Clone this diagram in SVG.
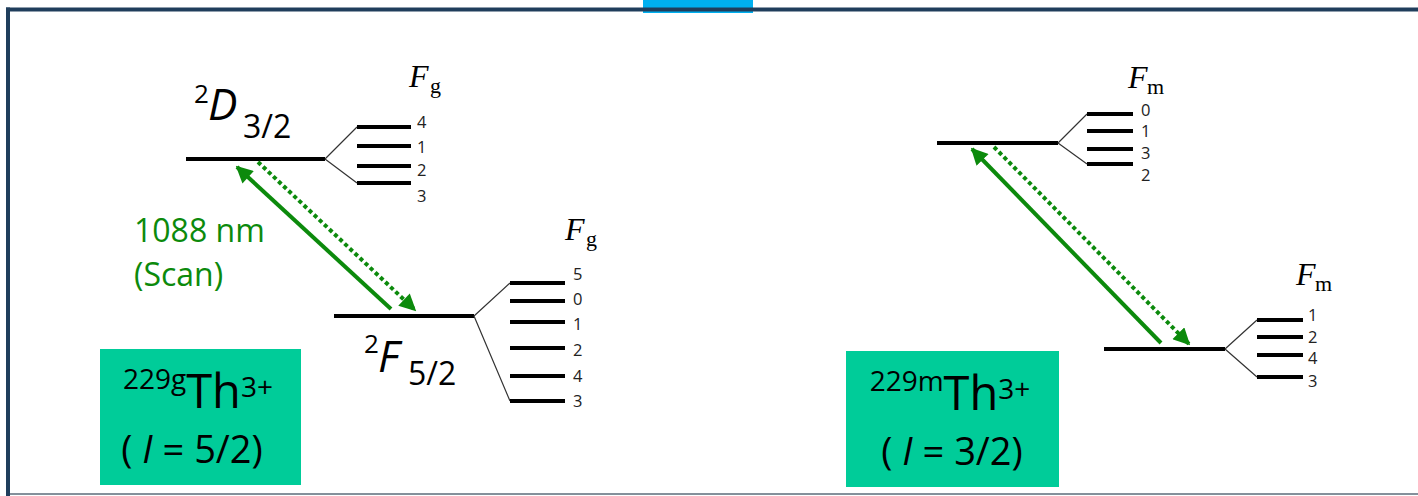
<svg xmlns="http://www.w3.org/2000/svg" width="1418" height="496" viewBox="0 0 1418 496">
  <style>
    .lvl { stroke: #000; stroke-width: 4; fill: none; }
    .sub { stroke: #000; stroke-width: 4; fill: none; }
    .fan { stroke: #333; stroke-width: 1.2; fill: none; }
    .num { font-family: "Open Sans", "Noto Sans", sans-serif; font-size: 16.5px; fill: #222; }
    .fF { font-family: "Liberation Serif", "DejaVu Serif", serif; font-style: italic; font-size: 32px; fill: #000; }
    .fsub { font-family: "Liberation Serif", "DejaVu Serif", serif; font-size: 22px; fill: #000; }
    .term { font-family: "Open Sans", "Noto Sans", sans-serif; fill: #000; }
    .box { fill: #00CC99; }
    .boxt { font-family: "Open Sans", "Noto Sans", sans-serif; fill: #000; }
    .laser { stroke: #0C8A0C; stroke-width: 4; fill: none; }
    .dots { stroke: #0C8A0C; stroke-width: 4; fill: none; stroke-dasharray: 4 3; }
    .lab { font-family: "Open Sans", "Noto Sans", sans-serif; font-size: 32px; fill: #0C8A0C; }
  </style>
  <defs>
    <marker id="head" viewBox="0 0 10 10" refX="9" refY="5" markerWidth="4.4" markerHeight="4.2" orient="auto" markerUnits="strokeWidth">
      <path d="M0,0 L10,5 L0,10 Z" fill="#0C8A0C"/>
    </marker>
  </defs>

  <!-- slide frame -->
  <rect x="643" y="0" width="110" height="13" fill="#00B0F0"/>
  <line x1="6" y1="9.5" x2="1418" y2="9.5" stroke="#203E5C" stroke-width="4"/>
  <line x1="8" y1="7.5" x2="8" y2="496" stroke="#203E5C" stroke-width="4"/>
  <line x1="10" y1="494" x2="1418" y2="494" stroke="#5B6B7A" stroke-width="1.5"/>

  <!-- 229g Th3+ : upper 2D3/2 level -->
  <g id="g-D32">
    <line class="lvl" x1="186" y1="159" x2="325" y2="159"/>
    <path class="fan" d="M325,159 L357,127 M325,159 L357,183"/>
    <line class="sub" x1="357" y1="127" x2="411" y2="127"/>
    <line class="sub" x1="357" y1="146" x2="411" y2="146"/>
    <line class="sub" x1="357" y1="166" x2="411" y2="166"/>
    <line class="sub" x1="357" y1="183" x2="411" y2="183"/>
    <text class="num" x="417" y="128">4</text>
    <text class="num" x="417" y="153">1</text>
    <text class="num" x="417" y="176">2</text>
    <text class="num" x="417" y="202">3</text>
    <text class="fF" x="409" y="87">F</text>
    <text class="fsub" x="430" y="93">g</text>
    <text class="term" x="194" y="103" font-size="26">2</text>
    <text class="term" x="208" y="120" font-size="44" font-style="italic">D</text>
    <text class="term" x="243" y="138" font-size="32">3/2</text>
  </g>

  <!-- 229g Th3+ : lower 2F5/2 level -->
  <g id="g-F52">
    <line class="lvl" x1="334" y1="316" x2="474" y2="316"/>
    <path class="fan" d="M474,316 L510,283 M474,316 L510,401"/>
    <line class="sub" x1="510" y1="283" x2="565" y2="283"/>
    <line class="sub" x1="510" y1="301" x2="565" y2="301"/>
    <line class="sub" x1="510" y1="322" x2="565" y2="322"/>
    <line class="sub" x1="510" y1="348" x2="565" y2="348"/>
    <line class="sub" x1="510" y1="376" x2="565" y2="376"/>
    <line class="sub" x1="510" y1="401" x2="565" y2="401"/>
    <text class="num" x="573" y="280">5</text>
    <text class="num" x="573" y="305">0</text>
    <text class="num" x="573" y="330">1</text>
    <text class="num" x="573" y="356">2</text>
    <text class="num" x="573" y="382">4</text>
    <text class="num" x="573" y="407">3</text>
    <text class="fF" x="565" y="240">F</text>
    <text class="fsub" x="586" y="246">g</text>
    <text class="term" x="364" y="353" font-size="26">2</text>
    <text class="term" x="378" y="372" font-size="44" font-style="italic">F</text>
    <text class="term" x="408" y="385" font-size="32">5/2</text>
  </g>

  <!-- 229m Th3+ : upper level -->
  <g id="m-upper">
    <line class="lvl" x1="937" y1="143" x2="1058" y2="143"/>
    <path class="fan" d="M1058,143 L1087,114 M1058,143 L1087,164"/>
    <line class="sub" x1="1087" y1="114" x2="1133" y2="114"/>
    <line class="sub" x1="1087" y1="131" x2="1133" y2="131"/>
    <line class="sub" x1="1087" y1="149" x2="1133" y2="149"/>
    <line class="sub" x1="1087" y1="164" x2="1133" y2="164"/>
    <text class="num" x="1141" y="116">0</text>
    <text class="num" x="1141" y="137">1</text>
    <text class="num" x="1141" y="159">3</text>
    <text class="num" x="1141" y="181">2</text>
    <text class="fF" x="1128" y="88">F</text>
    <text class="fsub" x="1147" y="94">m</text>
  </g>

  <!-- 229m Th3+ : lower level -->
  <g id="m-lower">
    <line class="lvl" x1="1104" y1="349" x2="1225" y2="349"/>
    <path class="fan" d="M1225,349 L1257,320 M1225,349 L1257,377"/>
    <line class="sub" x1="1257" y1="320" x2="1303" y2="320"/>
    <line class="sub" x1="1257" y1="337" x2="1303" y2="337"/>
    <line class="sub" x1="1257" y1="355" x2="1303" y2="355"/>
    <line class="sub" x1="1257" y1="377" x2="1303" y2="377"/>
    <text class="num" x="1308" y="321">1</text>
    <text class="num" x="1308" y="343">2</text>
    <text class="num" x="1308" y="364">4</text>
    <text class="num" x="1308" y="387">3</text>
    <text class="fF" x="1296" y="285">F</text>
    <text class="fsub" x="1315" y="291">m</text>
  </g>

  <!-- laser excitation and decay -->
  <g id="connectors">
    <line class="laser" x1="391" y1="309" x2="237" y2="167" marker-end="url(#head)"/>
    <line class="dots" x1="258" y1="162" x2="415" y2="310" marker-end="url(#head)"/>
    <line class="laser" x1="1161" y1="343" x2="972" y2="149" marker-end="url(#head)"/>
    <line class="dots" x1="994" y1="147" x2="1189" y2="344" marker-end="url(#head)"/>
  </g>

  <g id="scan-label">
    <text class="lab" x="134" y="242">1088 nm</text>
    <text class="lab" x="134" y="286">(Scan)</text>
  </g>

  <!-- isotope boxes -->
  <g id="box-ground">
    <rect class="box" x="100" y="349" width="201" height="136"/>
    <text class="boxt" x="198" y="408" text-anchor="middle"><tspan font-size="28" dy="-19">229g</tspan><tspan font-size="47" dy="19">Th</tspan><tspan font-size="28" dy="-11">3+</tspan></text>
    <text class="boxt" x="192" y="463" font-size="38" text-anchor="middle">( <tspan font-style="italic">I</tspan> = 5/2)</text>
  </g>
  <g id="box-isomer">
    <rect class="box" x="846" y="351" width="213" height="136"/>
    <text class="boxt" x="950" y="410" text-anchor="middle"><tspan font-size="28" dy="-19">229m</tspan><tspan font-size="47" dy="19">Th</tspan><tspan font-size="28" dy="-11">3+</tspan></text>
    <text class="boxt" x="952" y="465" font-size="38" text-anchor="middle">( <tspan font-style="italic">I</tspan> = 3/2)</text>
  </g>
</svg>
